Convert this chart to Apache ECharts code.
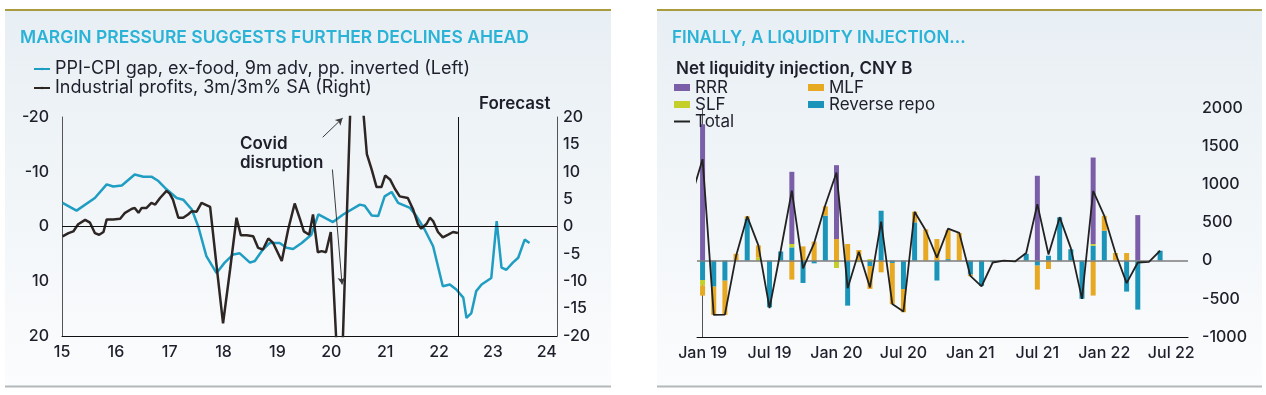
<!DOCTYPE html>
<html><head><meta charset="utf-8">
<script src="https://cdn.jsdelivr.net/npm/echarts@6/dist/echarts.min.js"></script>
<style>html,body{margin:0;padding:0;background:#fff}#c{width:1266px;height:395px}</style>
</head><body><div id="c"></div>
<script>
// ---------- Left panel data ----------
const yearTicks = [2015,2016,2017,2018,2019,2020,2021,2022,2023,2024];
const ppiDates = [2015.01,2015.27,2015.61,2015.83,2015.95,2016.11,2016.35,2016.51,2016.66,2016.79,2016.94,2017.13,2017.25,2017.41,2017.53,2017.68,2017.87,2018.02,2018.18,2018.30,2018.49,2018.58,2018.73,2018.86,2019.04,2019.17,2019.29,2019.45,2019.63,2019.76,2020.03,2020.22,2020.53,2020.62,2020.75,2020.87,2020.99,2021.12,2021.24,2021.46,2021.58,2021.73,2021.89,2022.07,2022.20,2022.32,2022.45,2022.51,2022.60,2022.69,2022.79,2022.88,2022.97,2023.07,2023.16,2023.25,2023.37,2023.47,2023.59,2023.68];
const ppiValues = [-4.3,-2.9,-5.2,-7.7,-7.3,-7.5,-9.5,-9.1,-9.1,-8.3,-6.8,-5.2,-4.9,-3.1,0,5.4,8.5,6.6,5.1,4.9,6.6,6.3,4.2,3.0,3.0,3.9,4.1,3.0,1.5,-2.2,-0.8,-2.2,-4.0,-3.8,-2.0,-1.9,-5.5,-6.3,-4.3,-3.4,-1.9,0.5,3.6,10.9,10.6,11.5,13.0,16.7,15.8,11.8,10.6,10.0,9.4,-1.0,7.5,7.9,6.6,5.7,2.4,3.0];
const profitDates = [2015.01,2015.12,2015.21,2015.30,2015.43,2015.52,2015.61,2015.69,2015.77,2015.83,2015.95,2016.08,2016.17,2016.29,2016.35,2016.42,2016.48,2016.57,2016.66,2016.73,2016.82,2016.94,2017.00,2017.06,2017.16,2017.25,2017.34,2017.41,2017.50,2017.59,2017.75,2017.87,2017.99,2018.12,2018.24,2018.32,2018.43,2018.55,2018.64,2018.73,2018.83,2018.92,2019.08,2019.20,2019.32,2019.42,2019.49,2019.59,2019.66,2019.75,2019.82,2019.90,2019.99,2020.15,2020.20,2020.38,2020.47,2020.56,2020.66,2020.75,2020.84,2020.93,2021.00,2021.09,2021.18,2021.27,2021.42,2021.52,2021.61,2021.67,2021.77,2021.83,2021.89,2021.98,2022.07,2022.17,2022.26,2022.35];
const profitValues = [-1.8,-1.2,-0.9,0.4,1.2,0.7,-1.2,-1.5,-1.0,1.3,1.3,1.4,2.5,3.2,3.4,2.5,3.4,3.4,4.3,4.0,5.2,6.5,6.0,4.9,1.6,1.6,2.2,2.8,2.7,4.3,3.6,-7.2,-17.7,-7.9,1.6,-1.6,-1.6,-1.8,-3.9,-4.2,-2.2,-3.0,-6.3,-0.5,4.2,1.3,-0.9,-1.5,2.2,-4.7,-4.5,-4.7,-1.0,-32,-25,30,50,25,13.2,10.4,7.2,7.2,9.3,8.6,6.9,5.5,5.2,3.1,0.4,-0.4,0.5,1.6,1.0,-1.0,-2.0,-1.5,-1.0,-1.2];
const forecastStart = 2022.35;

// ---------- Right panel data ----------
const months = ['Jan 19','Feb 19','Mar 19','Apr 19','May 19','Jun 19','Jul 19','Aug 19','Sep 19','Oct 19','Nov 19','Dec 19',
  'Jan 20','Feb 20','Mar 20','Apr 20','May 20','Jun 20','Jul 20','Aug 20','Sep 20','Oct 20','Nov 20','Dec 20',
  'Jan 21','Feb 21','Mar 21','Apr 21','May 21','Jun 21','Jul 21','Aug 21','Sep 21','Oct 21','Nov 21','Dec 21',
  'Jan 22','Feb 22','Mar 22','Apr 22','May 22','Jun 22','Jul 22','Aug 22'];
const reverseRepo = [-253,-340,-262,0,550,0,-610,120,174,-292,-35,590,0,-589,0,-70,654,-30,-371,501,0,-260,20,0,-183,-330,-20,0,0,90,-65,65,567,150,-500,196,392,0,-405,-641,0,130];
const slf =         [-74,0,0,0,0,40,0,0,44,0,0,0,-96,0,-20,20,0,0,0,0,0,0,0,0,0,0,0,0,0,0,0,0,0,0,0,22,0,0,0,0,0,0];
const mlf =         [-131,-370,-449,90,30,160,0,0,-248,187,249,122,283,218,140,-300,-153,-540,-305,140,410,283,380,362,-20,0,0,0,0,0,-314,-109,0,0,0,-457,196,100,100,0,0,0];
const rrr =         [1788,0,0,0,0,0,0,0,946,0,0,0,968,0,0,0,0,0,0,0,0,0,0,0,0,0,0,0,0,0,1112,0,0,0,0,1133,0,0,0,597,0,0];
// Total: first value is Dec 18 (index -1), then Jan 19 .. Jun 22
const totalValues = [840,1330,-710,-706,60,580,200,-620,130,916,-100,230,730,1155,-360,118,-350,510,-567,-667,641,395,40,420,365,-200,-336,-24,0,-10,100,740,80,570,165,-500,913,586,100,-294,-24,-15,130];

const FONT = 'Inter';
const TXT = '#1f1f2b';
const ppiName = 'PPI-CPI gap, ex-food, 9m adv, pp. inverted (Left)';
const profName = 'Industrial profits, 3m/3m% SA (Right)';

const chart = echarts.init(document.getElementById('c'), null, {renderer:'canvas'});
const lbl = (extra) => Object.assign({fontFamily:FONT, fontSize:16, color:TXT}, extra||{});
const bg = {type:'linear', x:0, y:0, x2:0, y2:1, colorStops:[{offset:0,color:'#e8eff4'},{offset:1,color:'#fbfcfd'}]};

const option = {
  animation:false,
  backgroundColor:'#ffffff',
  title:[
    {text:'MARGIN PRESSURE SUGGESTS FURTHER DECLINES AHEAD', left:20, top:29, padding:0, textStyle:{fontFamily:FONT, fontSize:17.5, fontWeight:600, color:'#2ab3d6'}},
    {text:'FINALLY, A LIQUIDITY INJECTION...', left:672, top:29, padding:0, textStyle:{fontFamily:FONT, fontSize:17, fontWeight:600, color:'#2ab3d6'}},
    {text:'Net liquidity injection, CNY B', left:676, top:60, padding:0, textStyle:{fontFamily:FONT, fontSize:17, fontWeight:600, color:TXT}}
  ],
  legend:[
    {left:33, top:59.5, padding:0, orient:'vertical', itemWidth:16, itemHeight:3, itemGap:0, data:[ppiName, profName],
     textStyle:lbl({fontSize:18, lineHeight:19})},
    {left:674, top:79, padding:0, orient:'vertical', itemWidth:16, itemHeight:7, itemGap:0,
     data:[{name:'RRR',icon:'rect'},{name:'SLF',icon:'rect'},{name:'Total',icon:'path://M0 0H16V2H0Z'}], textStyle:lbl({fontSize:17, lineHeight:14})},
    {left:808, top:79, padding:0, orient:'vertical', itemWidth:16, itemHeight:7, itemGap:0,
     data:[{name:'MLF',icon:'rect'},{name:'Reverse repo',icon:'rect'}], textStyle:lbl({fontSize:17, lineHeight:14})}
  ],
  grid:[
    {left:62, top:117, width:495, height:219},
    {left:697, top:108, width:491, height:229}
  ],
  xAxis:[
    {type:'value', gridIndex:0, min:2015, max:2024.19,
     axisLine:{show:true, onZero:false, lineStyle:{color:'#111', width:1}}, axisTick:{show:false}, splitLine:{show:false},
     axisLabel:lbl({customValues:yearTicks, margin:8, fontWeight:500, formatter:(v)=>String(Math.round(v)).slice(2)})},
    {type:'category', gridIndex:1, data:months, boundaryGap:true,
     axisLine:{show:true, onZero:false, lineStyle:{color:'#111', width:1}}, axisTick:{show:false}, splitLine:{show:false},
     axisLabel:lbl({interval:5, margin:8, fontWeight:500})},
    {type:'value', gridIndex:1, min:-0.5, max:43.5, show:false}
  ],
  yAxis:[
    {type:'value', gridIndex:0, position:'left', inverse:true, min:-20, max:20, interval:10,
     axisLine:{show:true, lineStyle:{color:'#555', width:1}}, axisTick:{show:false}, splitLine:{show:false},
     axisLabel:lbl({margin:13, fontWeight:500})},
    {type:'value', gridIndex:0, position:'right', min:-20, max:20, interval:5,
     axisLine:{show:true, lineStyle:{color:'#555', width:1}}, axisTick:{show:false}, splitLine:{show:false},
     axisLabel:lbl({margin:6, fontWeight:500})},
    {type:'value', gridIndex:1, position:'right', min:-1000, max:2000, interval:500,
     axisLine:{show:true, lineStyle:{color:'#555', width:1}}, axisTick:{show:false}, splitLine:{show:false},
     axisLabel:lbl({margin:14, fontWeight:500, formatter:(v)=>String(v)})}
  ],
  series:[
    {name:ppiName, type:'line', xAxisIndex:0, yAxisIndex:0, symbol:'none', color:'#1f9dc2',
     lineStyle:{color:'#1f9dc2', width:2.5}, clip:true, z:3,
     data:ppiDates.map((d,i)=>[d, ppiValues[i]]),
     markLine:{silent:true, symbol:'none', label:{show:false}, lineStyle:{color:'#111', width:1, type:'solid'},
       data:[{yAxis:0},{xAxis:forecastStart}]}},
    {name:profName, type:'line', xAxisIndex:0, yAxisIndex:1, symbol:'none', color:'#2d2624',
     lineStyle:{color:'#2d2624', width:2.5}, clip:true, z:4,
     data:profitDates.map((d,i)=>[d, profitValues[i]]),
     markLine:{silent:true, symbol:['none','arrow'], symbolSize:[6,7], label:{show:false},
       lineStyle:{color:'#3a3a3a', width:1, type:'solid'},
       data:[
         [{coord:[2019.84,16.3]},{coord:[2020.21,19.8]}],
         [{coord:[2020.02,10.4]},{coord:[2020.20,-10.6]}]
       ]}},
    {name:'Reverse repo', type:'bar', xAxisIndex:1, yAxisIndex:2, stack:'liq', barWidth:5, color:'#1a94b9', data:reverseRepo,
     markLine:{silent:true, symbol:'none', label:{show:false}, lineStyle:{color:'#7c7c7c', width:1.5, type:'solid'}, data:[{yAxis:0}]}},
    {name:'SLF', type:'bar', xAxisIndex:1, yAxisIndex:2, stack:'liq', barWidth:5, color:'#c4cf2c', data:slf},
    {name:'MLF', type:'bar', xAxisIndex:1, yAxisIndex:2, stack:'liq', barWidth:5, color:'#e7a822', data:mlf},
    {name:'RRR', type:'bar', xAxisIndex:1, yAxisIndex:2, stack:'liq', barWidth:5, color:'#7a5ea8', data:rrr},
    {name:'Total', type:'line', xAxisIndex:2, yAxisIndex:2, symbol:'none', color:'#222', clip:true, z:5,
     lineStyle:{color:'#222', width:1.8},
     data:totalValues.map((v,i)=>[i-1, v])}
  ],
  graphic:[
    {type:'rect', z:-100, shape:{x:5, y:11, width:606, height:375}, style:{fill:bg}},
    {type:'rect', z:-100, shape:{x:657, y:11, width:605, height:375}, style:{fill:bg}},
    {type:'line', z:-50, shape:{x1:5, y1:10, x2:611, y2:10}, style:{stroke:'#a99c3f', lineWidth:2}},
    {type:'line', z:-50, shape:{x1:657, y1:10, x2:1262, y2:10}, style:{stroke:'#a99c3f', lineWidth:2}},
    {type:'line', z:-50, shape:{x1:5, y1:386.5, x2:611, y2:386.5}, style:{stroke:'#b3b8bb', lineWidth:2}},
    {type:'line', z:-50, shape:{x1:657, y1:386.5, x2:1262, y2:386.5}, style:{stroke:'#b3b8bb', lineWidth:2}},
    {type:'text', z:100, x:479, y:95, style:{text:'Forecast', fontFamily:FONT, fontSize:17, fontWeight:600, fill:TXT}},
    {type:'text', z:100, x:240, y:134, style:{text:'Covid\ndisruption', fontFamily:FONT, fontSize:17, fontWeight:600, fill:TXT, lineHeight:19}}
  ]
};
chart.setOption(option);
</script>
</body></html>
